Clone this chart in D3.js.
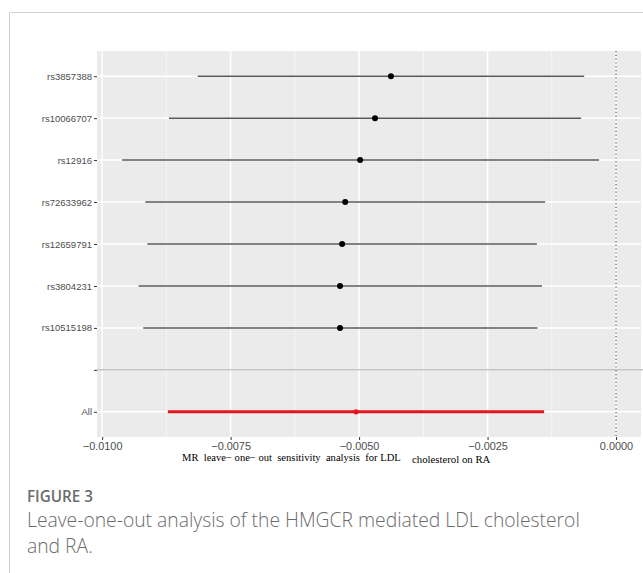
<!DOCTYPE html>
<html>
<head>
<meta charset="utf-8">
<script src="https://cdn.jsdelivr.net/npm/d3@7"></script>
<style>
  body { margin: 0; background: #fff; }
  svg { display: block; }
</style>
</head>
<body>
<svg id="chart" width="643" height="573"></svg>
<script>
// SNP labels, top to bottom ("" is the spacer row, then the combined estimate)
var snps = ["rs3857388", "rs10066707", "rs12916", "rs72633962", "rs12659791", "rs3804231", "rs10515198", "", "All"];
var estimate = [-0.00438, -0.00469, -0.00498, -0.00527, -0.00533, -0.00537, -0.00537, null, -0.00506];
var lower = [-0.00814, -0.00870, -0.00961, -0.00916, -0.00912, -0.00929, -0.00920, null, -0.00872];
var upper = [-0.00062, -0.00068, -0.00033, -0.00138, -0.00154, -0.00144, -0.00153, null, -0.00140];
var xTicks = [-0.0100, -0.0075, -0.0050, -0.0025, 0.0000];
var xMinor = [-0.00875, -0.00625, -0.00375, -0.00125];

var svg = d3.select("#chart");

// shrink/grow a text node's font so it spans a given width
function fitWidth(sel, width) {
    var fs = parseFloat(sel.style("font-size"));
    var w = sel.node().getComputedTextLength();
    sel.style("font-size", (fs * width / w) + "px");
}

// figure frame
svg.append("line").attr("x1", 9.5).attr("x2", 643).attr("y1", 12.5).attr("y2", 12.5)
    .style("stroke", "#cfcfcf").style("stroke-width", 1);
svg.append("line").attr("x1", 9.5).attr("x2", 9.5).attr("y1", 12.5).attr("y2", 573)
    .style("stroke", "#cfcfcf").style("stroke-width", 1);

var panel = { left: 97, right: 641, top: 51, bottom: 437 };

var x = d3.scaleLinear()
    .domain([-0.0101, 0.000486])
    .range([panel.left, panel.right]);

// discrete y with ggplot-like 0.6 expansion
var y = d3.scalePoint()
    .domain(snps.map(function (d, i) { return i; }))
    .range([panel.top, panel.bottom])
    .padding(0.6);

// panel background
svg.append("rect")
    .attr("x", panel.left).attr("y", panel.top)
    .attr("width", panel.right - panel.left).attr("height", panel.bottom - panel.top)
    .style("fill", "#ebebeb");

var grid = svg.append("g").attr("class", "grid");
grid.selectAll("line.minor")
    .data(xMinor)
    .enter().append("line")
    .attr("class", "minor")
    .attr("x1", function (d) { return x(d); }).attr("x2", function (d) { return x(d); })
    .attr("y1", panel.top).attr("y2", panel.bottom)
    .style("stroke", "#fafafa").style("stroke-width", 0.8);
grid.selectAll("line.major")
    .data(xTicks)
    .enter().append("line")
    .attr("class", "major")
    .attr("x1", function (d) { return x(d); }).attr("x2", function (d) { return x(d); })
    .attr("y1", panel.top).attr("y2", panel.bottom)
    .style("stroke", "#ffffff").style("stroke-width", 1.5);
grid.selectAll("line.row")
    .data(snps.map(function (d, i) { return i; }))
    .enter().append("line")
    .attr("class", "row")
    .attr("x1", panel.left).attr("x2", panel.right)
    .attr("y1", function (i) { return y(i); }).attr("y2", function (i) { return y(i); })
    .style("stroke", "#ffffff").style("stroke-width", 1.5);

// separator line on the spacer row
svg.append("line")
    .attr("x1", panel.left).attr("x2", 643)
    .attr("y1", y(7)).attr("y2", y(7))
    .style("stroke", "#c4c4c4").style("stroke-width", 1.5);

// reference line at zero
svg.append("line")
    .attr("x1", x(0)).attr("x2", x(0))
    .attr("y1", panel.top).attr("y2", panel.bottom)
    .style("stroke", "#555").style("stroke-width", 1.2)
    .style("stroke-dasharray", "1.2,2.6");

// confidence intervals and points
var rows = snps.map(function (s, i) {
    return { name: s, i: i, b: estimate[i], lo: lower[i], hi: upper[i], all: s === "All" };
}).filter(function (d) { return d.b !== null; });

svg.append("g").selectAll("line")
    .data(rows)
    .enter().append("line")
    .attr("x1", function (d) { return x(d.lo); }).attr("x2", function (d) { return x(d.hi); })
    .attr("y1", function (d) { return y(d.i); }).attr("y2", function (d) { return y(d.i); })
    .style("stroke", function (d) { return d.all ? "#e8141c" : "#5a5a5a"; })
    .style("stroke-width", function (d) { return d.all ? 3 : 1.5; });

svg.append("g").selectAll("circle")
    .data(rows)
    .enter().append("circle")
    .attr("cx", function (d) { return x(d.b); })
    .attr("cy", function (d) { return y(d.i); })
    .attr("r", function (d) { return d.all ? 2.6 : 3; })
    .style("fill", function (d) { return d.all ? "#e8141c" : "#000"; });

// y axis
var yAxis = svg.append("g")
    .attr("transform", "translate(" + panel.left + ",0)")
    .call(d3.axisLeft(y).tickSize(3).tickPadding(2).tickFormat(function (i) { return snps[i]; }));
yAxis.select(".domain").remove();
yAxis.selectAll(".tick line").style("stroke", "#333");
yAxis.selectAll("text")
    .style("font-family", "'Liberation Sans', Arial, sans-serif")
    .style("font-size", "9.5px").style("fill", "#4d4d4d");

// x axis
var xAxis = svg.append("g")
    .attr("transform", "translate(0," + panel.bottom + ")")
    .call(d3.axisBottom(x).tickValues(xTicks).tickSize(3).tickPadding(2)
        .tickFormat(function (d) { return d3.format(".4f")(d).replace("-", "\u2212"); }));
xAxis.select(".domain").remove();
xAxis.selectAll(".tick line").style("stroke", "#333");
xAxis.selectAll("text")
    .style("font-family", "'Liberation Sans', Arial, sans-serif")
    .style("font-size", "10.9px").style("fill", "#4d4d4d");

// axis title (plotmath style, second half set lower and smaller)
var title1 = svg.append("text")
    .attr("x", 182).attr("y", 461)
    .style("font-family", "'Liberation Serif', 'Times New Roman', serif")
    .style("font-size", "11px").style("white-space", "pre").style("fill", "#000")
    .text("MR  leave\u2212 one\u2212 out  sensitivity  analysis  for LDL");
fitWidth(title1, 219);
var title2 = svg.append("text")
    .attr("x", 412).attr("y", 462.5)
    .style("font-family", "'Liberation Serif', 'Times New Roman', serif")
    .style("font-size", "10px").style("fill", "#000")
    .text("cholesterol on RA");
fitWidth(title2, 78.5);

// caption
var cap1 = svg.append("text")
    .attr("x", 27).attr("y", 502)
    .style("font-family", "'Open Sans', sans-serif")
    .style("font-size", "14px").style("font-weight", 600)
    .style("fill", "#6b6b6b")
    .text("FIGURE 3");
fitWidth(cap1, 66);
var cap2 = svg.append("text")
    .attr("x", 27).attr("y", 527)
    .style("font-family", "'Open Sans', sans-serif")
    .style("font-size", "18px").style("font-weight", 300)
    .style("fill", "#6b6b6b")
    .text("Leave-one-out analysis of the HMGCR mediated LDL cholesterol");
fitWidth(cap2, 553);
svg.append("text")
    .attr("x", 27).attr("y", 553)
    .style("font-family", "'Open Sans', sans-serif")
    .style("font-size", cap2.style("font-size")).style("font-weight", 300)
    .style("fill", "#6b6b6b")
    .text("and RA.");
</script>
</body>
</html>
